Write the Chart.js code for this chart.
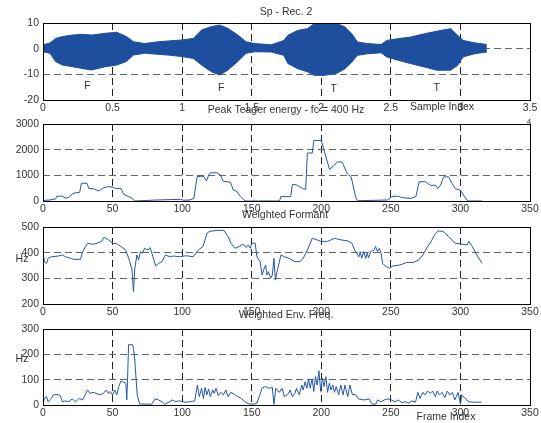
<!DOCTYPE html>
<html>
<head>
<meta charset="UTF-8">
<title>Sp - Rec. 2</title>
<script src="https://cdn.jsdelivr.net/npm/chart.js@4.4.0/dist/chart.umd.min.js"></script>
<style>
    body { margin: 0; background: #fff; }
    #wrap { position: relative; width: 541px; height: 423px; overflow: hidden; font-family: "Liberation Sans", Arial, sans-serif; }
    #wrap canvas { position: absolute; left: 0; }
    .lbl { position: absolute; font-size: 10.5px; line-height: 12px; color: #333; white-space: nowrap; transform: translateX(-50%); }
</style>
</head>
<body>
<div id="wrap">
    <canvas id="c1" width="541" height="115" style="top:3px"></canvas>
    <canvas id="c2" width="541" height="115" style="top:104px"></canvas>
    <canvas id="c3" width="541" height="115" style="top:207px"></canvas>
    <canvas id="c4" width="541" height="114" style="top:309px"></canvas>

    <div class="lbl" style="left:286px;top:5px">Sp - Rec. 2</div>
    <div class="lbl" style="left:286px;top:103px">Peak Teager energy - fc = 400 Hz</div>
    <div class="lbl" style="left:442px;top:100px">Sample Index</div>
    <div class="lbl" style="left:529px;top:116px;font-size:8px">4</div>
    <div class="lbl" style="left:285px;top:208px">Weighted Formant</div>
    <div class="lbl" style="left:22px;top:252px">Hz</div>
    <div class="lbl" style="left:286px;top:308px">Weighted Env. Freq.</div>
    <div class="lbl" style="left:22px;top:352px">Hz</div>
    <div class="lbl" style="left:446px;top:410px">Frame Index</div>
</div>
<script>
// speech waveform, read as upper / lower envelope (x in units of 10^4 samples)
const waveX = [0, 0.05, 0.09, 0.14, 0.21, 0.28, 0.35, 0.45, 0.53, 0.60, 0.65, 0.73, 0.83, 0.90, 1.0, 1.08, 1.14, 1.21, 1.27, 1.33, 1.40, 1.46, 1.52, 1.64, 1.73, 1.76, 1.83, 1.90, 1.95, 2.02, 2.11, 2.17, 2.22, 2.26, 2.33, 2.43, 2.47, 2.55, 2.64, 2.74, 2.83, 2.93, 2.98, 3.02, 3.10, 3.19];
const waveTop = [1.5, 2.2, 4, 4.7, 5.3, 5.6, 5.3, 6, 6.4, 4.7, 2.7, 2, 2.7, 3, 3.4, 4, 7.3, 8.6, 9.2, 7.9, 5.3, 2.7, 2, 1.5, 3.2, 5.2, 7.1, 7.8, 9.8, 9.8, 9.8, 8.5, 5.8, 2.6, 2, 1.6, 3.2, 3.9, 4.5, 5.8, 6.8, 7.8, 5.2, 3.2, 2.3, 1.6];
const waveBottom = [-1.2, -1.8, -5, -6.4, -7, -7.7, -8.3, -7, -6.4, -5, -2.5, -1.8, -2.2, -2.5, -3.1, -3.8, -6.4, -9, -10.3, -8.3, -5, -1.8, -1.2, -1.3, -2.6, -5.8, -7.8, -9, -10.4, -10.4, -9.7, -7.8, -5.2, -2.6, -2, -1.6, -3.2, -4.5, -5.8, -7.1, -8.4, -8.4, -6.5, -3.2, -2, -1.3];
const wordLabels = ["F", "F", "T", "T"];
const wordX = [0.32, 1.28, 2.09, 2.83];
const wordY = [-14.5, -15.3, -15.6, -15.3];

// peak Teager energy per frame
const teagerX = [0, 5, 9, 10, 13.7, 16, 18.5, 21, 23, 26.4, 27.6, 31.6, 32.9, 36.5, 40, 43.6, 47.2, 50.4, 52, 56, 58, 61.6, 64, 66, 82, 98.8, 101, 105.5, 108.4, 110.8, 113.2, 115.6, 117.5, 119, 120.4, 125, 127.6, 129.5, 134.8, 136.7, 139, 142, 144.4, 145.6, 170, 171, 178, 179.2, 180.4, 182.8, 186.4, 188.8, 190, 193.5, 194.7, 200, 202, 206, 209, 211.5, 215, 218.7, 221.5, 224.6, 226, 247.6, 250.7, 254.8, 258.4, 264.4, 268, 270.3, 275, 278.5, 282.1, 283.7, 285.6, 288, 291.6, 294, 296.4, 300, 303, 305.3, 315.6];
const teagerY = [20, 40, 80, 190, 190, 120, 130, 270, 320, 340, 690, 690, 490, 470, 390, 520, 560, 530, 490, 490, 260, 170, 100, 0, 40, 65, 30, 40, 100, 950, 960, 960, 780, 1000, 1100, 1100, 1000, 770, 730, 430, 390, 170, 40, 0, 0, 170, 170, 640, 650, 610, 490, 450, 1870, 1870, 2360, 2360, 1970, 1220, 1390, 1520, 1520, 1060, 940, 170, 10, 40, 170, 190, 130, 100, 170, 750, 750, 610, 610, 480, 610, 940, 940, 680, 480, 420, 170, 0, 0];

// weighted formant (Hz)
const formantX = [0, 1, 2.5, 3.7, 6, 11, 14, 16, 20, 22, 27, 28.5, 32, 35, 38, 42, 44, 47, 50, 53, 56, 59.5, 62, 64, 65, 66, 67.5, 68.7, 70, 71.5, 73, 75.5, 77, 79, 81, 83, 85.5, 88, 91, 94, 98, 103, 108, 111.5, 115, 118, 120, 125, 130, 133, 135, 138, 141, 144, 146, 147.5, 149, 150, 152.5, 153.7, 156, 157.5, 158.6, 160, 161, 162, 163.6, 164.8, 166, 167, 168.5, 171, 173.5, 177, 181, 184.7, 187, 190, 193.5, 197, 199.5, 204.5, 209.5, 214, 219, 222, 224, 225.5, 227, 228, 229, 230.5, 232, 233, 234, 235.5, 238, 239, 240.4, 241.7, 243, 244, 246.6, 249, 251.5, 256.5, 261.5, 266, 270, 273, 276, 279, 281.5, 284, 287.5, 291.5, 296, 301, 305, 306, 308.6, 311, 315.6];
const formantY = [400, 365, 358, 378, 384, 387, 391, 384, 378, 374, 374, 404, 437, 433, 435, 444, 460, 450, 437, 435, 424, 410, 371, 333, 248, 339, 391, 371, 404, 398, 417, 410, 420, 384, 348, 358, 365, 391, 384, 387, 384, 388, 384, 410, 424, 477, 483, 487, 487, 463, 437, 417, 424, 433, 420, 430, 417, 437, 437, 384, 365, 313, 333, 352, 313, 326, 300, 313, 378, 293, 333, 391, 384, 378, 365, 365, 378, 410, 456, 450, 444, 444, 456, 450, 446, 437, 410, 398, 384, 404, 378, 404, 378, 398, 380, 404, 410, 424, 404, 417, 398, 358, 346, 339, 348, 352, 362, 362, 371, 391, 420, 444, 470, 485, 483, 463, 437, 433, 430, 444, 424, 398, 358];

// weighted envelope frequency (Hz)
const envX = [0, 1, 2.5, 3.7, 6, 7.4, 10, 12.4, 14, 16, 18.6, 21, 23.5, 26, 28.5, 30, 32, 34, 36, 38, 41, 43.4, 45.4, 47, 48.3, 50, 51.6, 53, 54.5, 56, 58, 59.5, 60.2, 60.7, 61.5, 64.5, 65.7, 67.7, 69.4, 78, 80.6, 83, 85.5, 87.5, 90.5, 93, 95.4, 98, 100.4, 103, 105.4, 109, 111, 112.3, 114, 115.3, 116.5, 117.7, 119, 120.2, 122, 123, 124.4, 126, 127.7, 129.7, 131.4, 133, 135, 137.6, 140, 142.5, 145, 147.5, 151, 153.7, 155.4, 157.4, 160, 162, 164.8, 166, 167.3, 169.8, 171.8, 173.5, 176, 177.7, 179.2, 181, 182.2, 184.2, 186, 187, 188.4, 189.6, 190.9, 192, 193.4, 194.6, 195.8, 197, 198.3, 199.6, 200.8, 202, 203.3, 204.5, 205.8, 207, 208.2, 209.5, 210.7, 212.5, 214, 215.7, 217, 219, 220.6, 222.4, 224.3, 226.8, 230.5, 234.3, 236.7, 239.2, 240.4, 243, 245.4, 248, 250.4, 253, 255.4, 258, 260.3, 262.7, 265.2, 267.7, 269.4, 271, 273, 274.4, 276.4, 278.4, 280, 282, 283.3, 285, 286.8, 288.8, 290.5, 292.5, 294.2, 296, 298.3, 300, 301, 303.7, 306, 310, 315];
const envY = [3, 26, 33, 13, 26, 40, 42, 37, 13, 16, 13, 24, 13, 26, 20, 37, 59, 46, 50, 46, 40, 46, 59, 46, 53, 40, 59, 40, 73, 95, 90, 86, 20, 86, 238, 238, 198, 40, 4, 3, 24, 20, 13, 3, 11, 20, 13, 17, 13, 11, 13, 16, 79, 33, 66, 26, 69, 40, 63, 33, 59, 46, 66, 37, 50, 40, 59, 33, 50, 42, 33, 26, 13, 5, 3, 7, 33, 66, 73, 66, 69, 3, 66, 50, 66, 33, 42, 59, 33, 46, 66, 40, 79, 59, 92, 66, 103, 66, 103, 53, 112, 79, 135, 53, 106, 73, 112, 50, 86, 59, 79, 50, 73, 40, 79, 40, 79, 33, 79, 40, 42, 24, 20, 24, 3, 4, 20, 13, 20, 24, 20, 13, 20, 9, 13, 7, 16, 11, 50, 26, 50, 40, 55, 46, 55, 33, 55, 40, 50, 29, 55, 40, 50, 20, 50, 3, 40, 24, 13, 11, 11];

const lineColor = "#2457a6";
const waveColor = "#1e4f9e";
const tickFont = { family: "'Liberation Sans', Arial, sans-serif", size: 10.5 };

function pts(xs, ys) {
    return xs.map((x, i) => ({ x: x, y: ys[i] }));
}

// black box round the plot area, like matlab axes
const boxPlugin = {
    id: "box",
    afterDraw(chart) {
        const a = chart.chartArea;
        const ctx = chart.ctx;
        ctx.save();
        ctx.strokeStyle = "#000";
        ctx.lineWidth = 1;
        ctx.strokeRect(Math.round(a.left) + 0.5, Math.round(a.top) + 0.5, Math.round(a.right - a.left), Math.round(a.bottom - a.top));
        ctx.restore();
    }
};

// F / T labels under the waveform
const wordPlugin = {
    id: "words",
    afterDatasetsDraw(chart) {
        const ctx = chart.ctx;
        ctx.save();
        ctx.font = "10.5px 'Liberation Sans', Arial, sans-serif";
        ctx.fillStyle = "#333";
        ctx.textAlign = "center";
        ctx.textBaseline = "middle";
        wordLabels.forEach((t, i) => {
            ctx.fillText(t, chart.scales.x.getPixelForValue(wordX[i]), chart.scales.y.getPixelForValue(wordY[i]));
        });
        ctx.restore();
    }
};

function makePanel(id, datasets, xr, yr, extraPlugins) {
    return new Chart(document.getElementById(id), {
        type: "line",
        data: { datasets: datasets },
        options: {
            responsive: false,
            animation: false,
            devicePixelRatio: 1,
            layout: { padding: { top: 20, right: 11, bottom: 0, left: 0 } },
            plugins: { legend: { display: false }, tooltip: { enabled: false } },
            elements: { point: { radius: 0 }, line: { tension: 0 } },
            scales: {
                x: {
                    type: "linear", min: xr[0], max: xr[1],
                    ticks: { stepSize: xr[2], font: tickFont, color: "#333", padding: 2, maxRotation: 0, autoSkip: false,
                             callback: (v) => String(v) },
                    grid: { color: "#222", lineWidth: 1, drawTicks: false },
                    border: { display: false, dash: [7, 4] },
                    afterFit(s) { s.height = 18; }
                },
                y: {
                    min: yr[0], max: yr[1],
                    ticks: { stepSize: yr[2], font: tickFont, color: "#333", padding: 4,
                             callback: (v) => String(v) },
                    grid: { color: "#666", lineWidth: 1, drawTicks: false },
                    border: { display: false, dash: [7, 4] },
                    afterFit(s) { s.width = 43; }
                }
            }
        },
        plugins: [boxPlugin].concat(extraPlugins || [])
    });
}

makePanel("c1", [
    { data: pts(waveX, waveTop), borderColor: waveColor, backgroundColor: waveColor, borderWidth: 1, fill: "+1" },
    { data: pts(waveX, waveBottom), borderColor: waveColor, borderWidth: 1, fill: false }
], [0, 3.5, 0.5], [-20, 10, 10], [wordPlugin]);

makePanel("c2", [
    { data: pts(teagerX, teagerY), borderColor: lineColor, borderWidth: 1, fill: false }
], [0, 350, 50], [0, 3000, 1000]);

makePanel("c3", [
    { data: pts(formantX, formantY), borderColor: lineColor, borderWidth: 1, fill: false }
], [0, 350, 50], [200, 500, 100]);

makePanel("c4", [
    { data: pts(envX, envY), borderColor: lineColor, borderWidth: 1, fill: false }
], [0, 350, 50], [0, 300, 100]);
</script>
</body>
</html>
